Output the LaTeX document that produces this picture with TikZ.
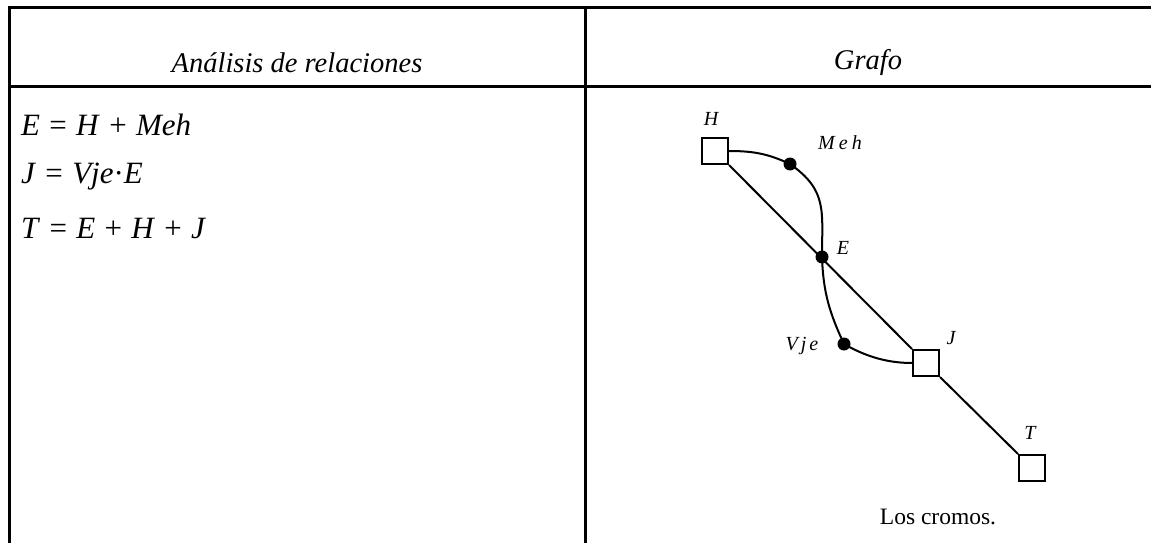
\documentclass[tikz,border=0pt]{standalone}
\usepackage{fontspec}
\setmainfont{Liberation Serif}
\newfontfamily\eqfont[WordSpace=1.2]{Liberation Serif}
\usetikzlibrary{positioning}

\begin{document}
\begin{tikzpicture}[
  x=1pt, y=-1pt,
  rule/.style={line width=3pt},
  head/.style={font=\fontsize{28.5}{32}\selectfont\itshape},
  eqn/.style={font=\eqfont\fontsize{31}{36}\selectfont, anchor=west, inner sep=0pt},
  sq/.style={draw, line width=2pt, minimum size=26pt, inner sep=0pt},
  dot/.style={circle, fill=black, minimum size=13pt, inner sep=0pt},
  lbl/.style={font=\fontsize{20}{24}\selectfont\itshape, inner sep=0pt},
  edge/.style={line width=2pt}
]
\useasboundingbox (0,0) rectangle (1151,543);

% table rules
\draw[rule] (9,543) -- (9,8) -- (1151,8);
\draw[rule] (9,86) -- (1151,86);
\draw[rule] (585,8) -- (585,543);

% header row
\node[head] (hrel) at (297,63) {Análisis de relaciones};
\node[head] (hgraf) at (868,63) {Grafo};

% relations
\node[eqn] (eq1) at (21,125) {\textit{E} = \textit{H} + \textit{Meh}};
\node[eqn] (eq2) at (21,177) {\textit{J} = \textit{Vje}·\textit{E}};
\node[eqn] (eq3) at (21,228) {\textit{T} = \textit{E} + \textit{H} + \textit{J}};

% graph nodes
\node[sq] (H) at (715,151) {};
\node[sq] (J) at (926,363) {};
\node[sq] (T) at (1032,468) {};
\node[dot] (Meh) at (790,164) {};
\node[dot] (E) at (822,257) {};
\node[dot] (Vje) at (844,344) {};

% graph labels
\node[lbl] (lH) at (711,119) {H};
\node[lbl] (lMeh) at (840,143) {M\hspace{4pt}e\hspace{4pt}h};
\node[lbl] (lE) at (843,248) {E};
\node[lbl] (lJ) at (951,338) {J};
\node[lbl] (lVje) at (802,346) {V\hspace{3pt}j\hspace{3pt}e};
\node[lbl] (lT) at (1030,433) {T};

% edges
\draw[edge] (H.south east) -- (J.north west);
\draw[edge] (J.south east) -- (T.north west);
\draw[edge] (H.east) to[out=0, in=155] (Meh.center);
\draw[edge] (Meh.center) to[out=-35, in=90, looseness=1.2] (E.center);
\draw[edge] (E.center) to[out=-88, in=115] (Vje.center);
\draw[edge] (Vje.center) to[out=-30, in=180, looseness=0.9] (J.west);

% caption
\node[font=\fontsize{23.5}{28}\selectfont] (cap) at (938,517) {Los cromos.};

\end{tikzpicture}
\end{document}
